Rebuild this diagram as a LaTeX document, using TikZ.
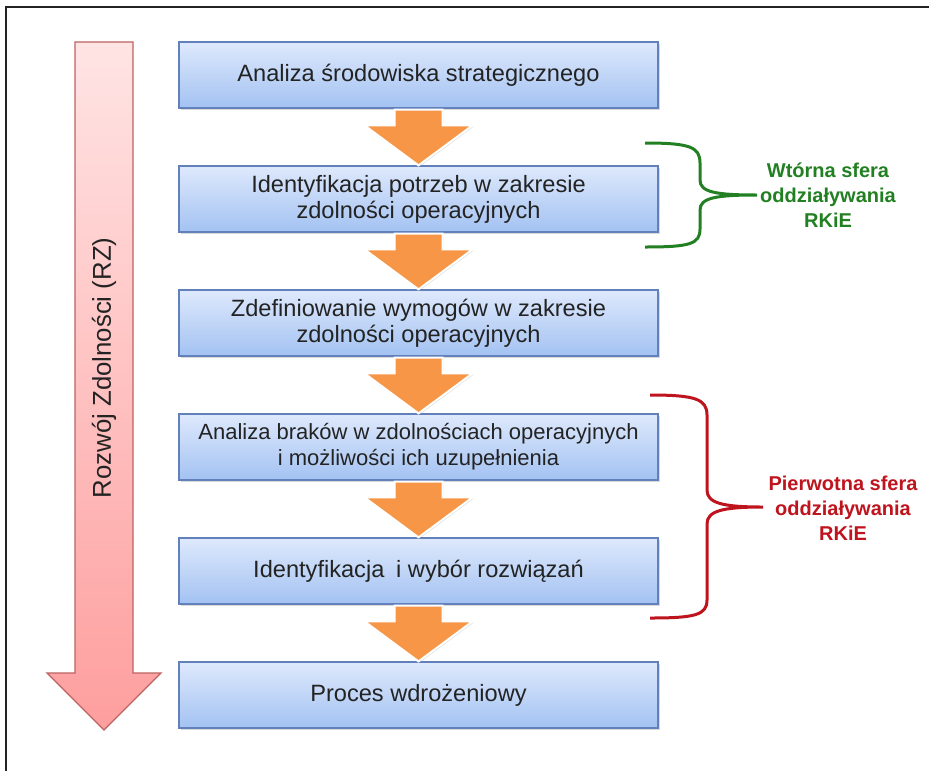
\documentclass[tikz,border=0pt]{standalone}
\usepackage{fontspec}
\setmainfont{Liberation Sans}
\usetikzlibrary{positioning,calc,shadows}
\definecolor{boxtop}{RGB}{222,233,252}
\definecolor{boxbot}{RGB}{163,194,242}
\definecolor{boxline}{RGB}{98,128,185}
\definecolor{strz}{RGB}{247,150,70}
\definecolor{rztop}{RGB}{255,228,228}
\definecolor{rzbot}{RGB}{254,158,158}
\definecolor{rzline}{RGB}{188,98,98}
\definecolor{wtor}{RGB}{34,128,34}
\definecolor{pierw}{RGB}{190,20,30}
\definecolor{tekst}{RGB}{35,35,35}
% orange block arrow from one box to the next
\newcommand{\strzalka}[2]{%
  \fill[strz,draw=white,line width=1pt,drop shadow={opacity=0.25,shadow xshift=0.6pt,shadow yshift=-0.6pt}]
    ($(#1.south)+(-24,1)$) -- ($(#2.north)+(-24,-40)$) -- ($(#2.north)+(-54,-40)$)
    -- (#2.north) -- ($(#2.north)+(54,-40)$) -- ($(#2.north)+(24,-40)$)
    -- ($(#1.south)+(24,1)$) -- cycle;}
\begin{document}
\begin{tikzpicture}
  [x=0.5pt,y=-0.5pt,node distance=28.4pt,
  krok/.style={rectangle,draw=boxline,line width=0.6pt,top color=boxtop,bottom color=boxbot,
    minimum width=239.5pt,minimum height=33pt,align=center,text=tekst,
    font=\fontsize{11.8}{13}\selectfont,
    drop shadow={opacity=0.3,shadow xshift=0.8pt,shadow yshift=-0.8pt}},
  sfera/.style={align=center,font=\fontsize{10}{12.5}\selectfont\bfseries}]
  \useasboundingbox (0,0) rectangle (929,771);
  \draw[tekst,line width=1pt] (6,771) -- (6,7) -- (929,7);
  % red arrow on the left
  \shade[top color=rztop,bottom color=rzbot,draw=rzline,line width=0.6pt]
    (75,42) -- (133,42) -- (133,673) -- (161,673) -- (104,730) -- (47,673) -- (75,673) -- cycle;
  \node[rotate=90,text=tekst,font=\fontsize{12.9}{14}\selectfont] (rz) at (104,368) {Rozwój Zdolności (RZ)};
  % steps
  \node[krok] (a) at (418.5,75) {Analiza środowiska strategicznego};
  \node[krok] (b)[below=of a]{Identyfikacja potrzeb w zakresie\\zdolności operacyjnych};
  \node[krok] (c)[below=of b]{Zdefiniowanie wymogów w zakresie\\zdolności operacyjnych};
  \node[krok,font=\fontsize{11}{13}\selectfont] (d)[below=of c]{Analiza braków w zdolnościach operacyjnych\\i możliwości ich uzupełnienia};
  \node[krok] (e)[below=of d]{Identyfikacja\hspace{0.5em}i wybór rozwiązań};
  \node[krok] (f)[below=of e]{Proces wdrożeniowy};
  \strzalka{a}{b}
  \strzalka{b}{c}
  \strzalka{c}{d}
  \strzalka{d}{e}
  \strzalka{e}{f}
  % braces
  \draw[wtor,line width=1.5pt] (645,143) .. controls (690,143) and (700,147) .. (700,163)
    -- (700,180) .. controls (700,192) and (715,195) .. (757,195)
    .. controls (715,195) and (700,198) .. (700,210)
    -- (700,229) .. controls (700,244) and (690,247) .. (645,247);
  \node[sfera,text=wtor] (wt) at (828,195) {Wtórna sfera\\oddziaływania\\RKiE};
  \draw[pierw,line width=1.5pt] (650,395) .. controls (695,395) and (707,399) .. (707,415)
    -- (707,490) .. controls (707,503) and (722,507) .. (763,507)
    .. controls (722,507) and (707,511) .. (707,524)
    -- (707,600) .. controls (707,615) and (695,618) .. (650,618);
  \node[sfera,text=pierw] (pw) at (843,508) {Pierwotna sfera\\oddziaływania\\RKiE};
\end{tikzpicture}
\end{document}
